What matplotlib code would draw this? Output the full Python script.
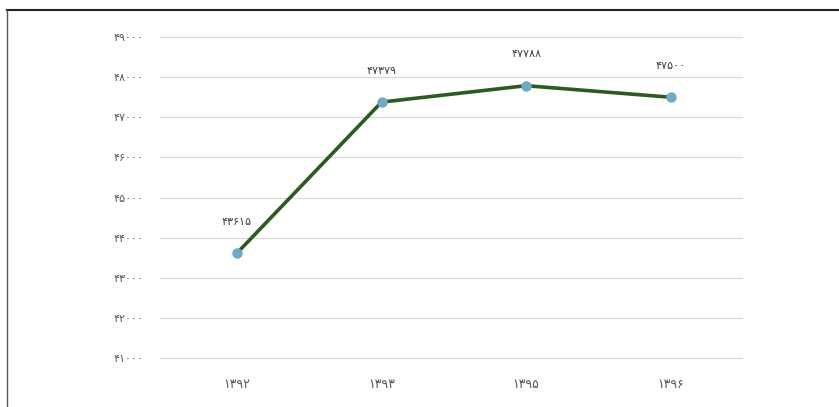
import matplotlib
matplotlib.use('Agg')
import matplotlib.pyplot as plt
from matplotlib.lines import Line2D

# سال‌ها و مقادیر
salha = ['۱۳۹۲', '۱۳۹۳', '۱۳۹۵', '۱۳۹۶']
meghdar = [43615, 47379, 47788, 47500]
barchasb = ['۴۳۶۱۵', '۴۷۳۷۹', '۴۷۷۸۸', '۴۷۵۰۰']
y_ticks = [41000, 42000, 43000, 44000, 45000, 46000, 47000, 48000, 49000]
y_labels = ['۴۱۰۰۰', '۴۲۰۰۰', '۴۳۰۰۰', '۴۴۰۰۰', '۴۵۰۰۰', '۴۶۰۰۰', '۴۷۰۰۰', '۴۸۰۰۰', '۴۹۰۰۰']

plt.rcParams['font.family'] = ['DejaVu Sans']

fig = plt.figure(figsize=(8.39, 4.07), dpi=100)
ax = fig.add_axes([0.191, 0.12, 0.693, 0.789])

x = list(range(len(salha)))
ax.plot(x, meghdar, color='#2f5a1f', linewidth=2.6, zorder=3)
ax.plot(x, meghdar, linestyle='none', marker='o', markersize=6.5,
        markerfacecolor='#6fa9c4', markeredgecolor='#6fa9c4', zorder=4)

for i in x:
    ax.annotate(barchasb[i], (i, meghdar[i]), xytext=(0, 19), textcoords='offset points',
                ha='center', va='bottom', fontsize=8, color='#404040')

ax.set_xlim(-0.53, 3.49)
ax.set_ylim(41000, 49000)
ax.set_yticks(y_ticks)
ax.set_yticklabels(y_labels, fontsize=8, color='#595959')
ax.set_xticks(x)
ax.set_xticklabels(salha, fontsize=9, color='#595959')
ax.tick_params(length=0)
ax.tick_params(axis='y', pad=12)
ax.tick_params(axis='x', pad=14)
ax.grid(axis='y', color='#d9d9d9', linewidth=0.9)
for gl in ax.get_ygridlines():
    gl.set_clip_on(False)
ax.set_axisbelow(True)
for s in ax.spines.values():
    s.set_visible(False)

# قاب بالا و چپ
fig.add_artist(Line2D([7/839, 1], [1 - 10/407, 1 - 10/407], color='#222222', linewidth=1.5))
fig.add_artist(Line2D([7/839, 7/839], [0, 1 - 10/407], color='#555555', linewidth=1))

fig.savefig('out.png', dpi=100)
